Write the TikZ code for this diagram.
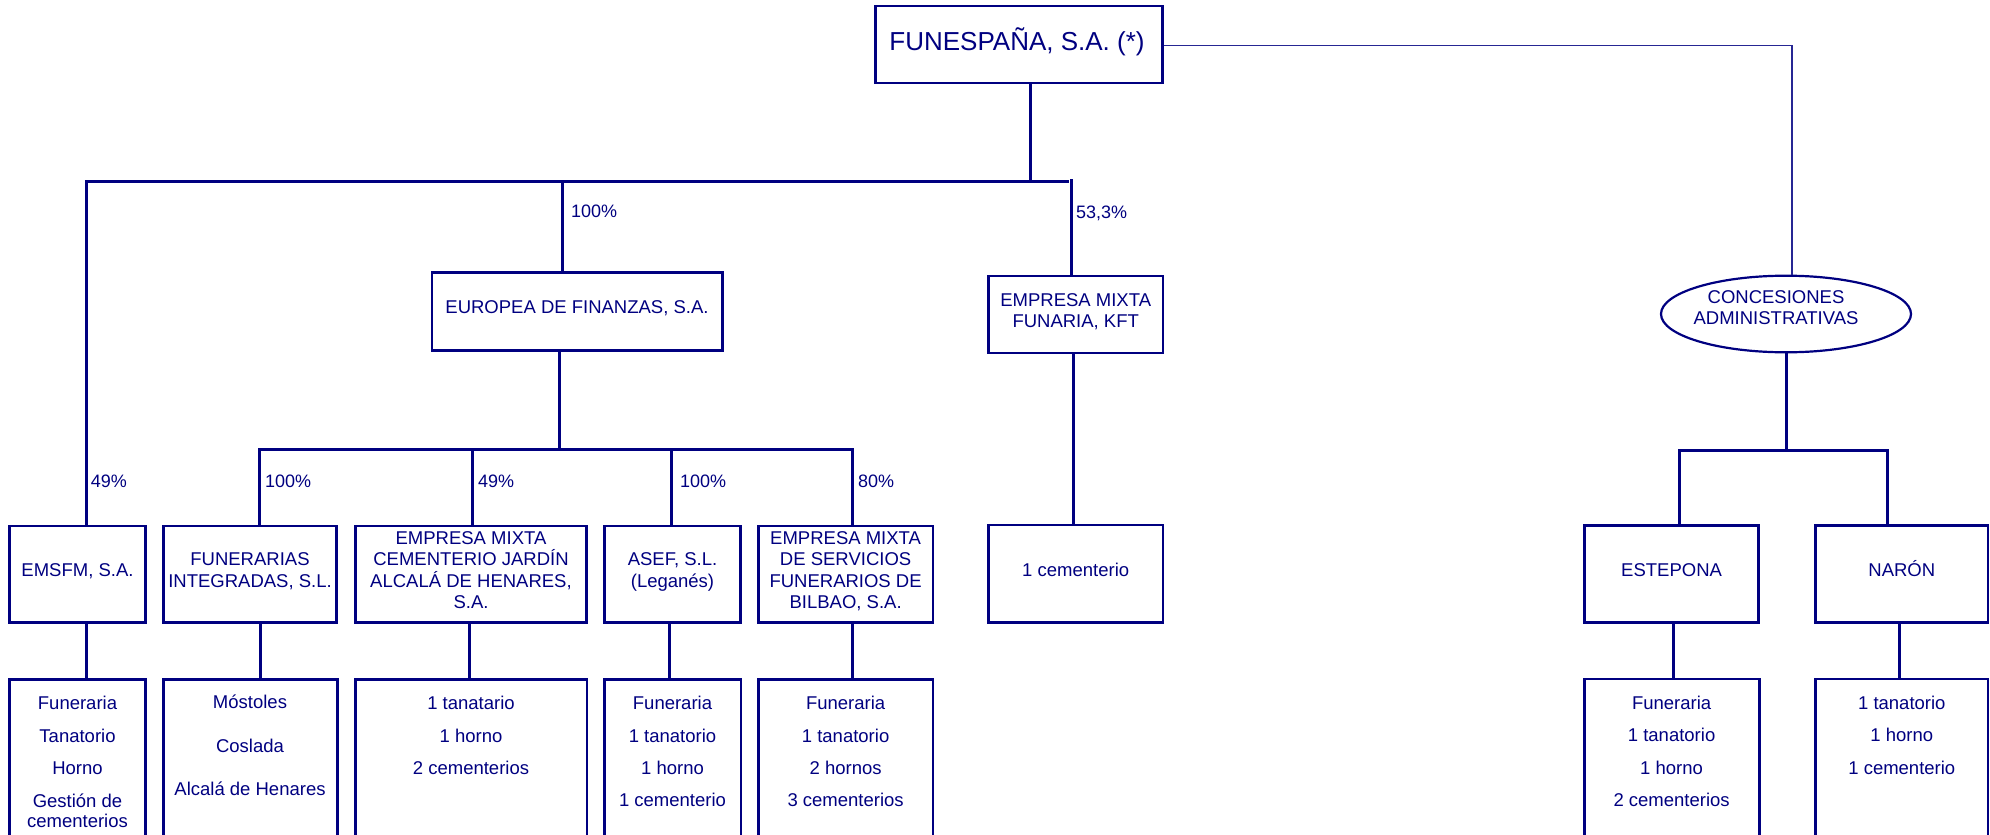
\documentclass[tikz,border=0pt]{standalone}
\usepackage{fontspec}
\setmainfont{Liberation Sans}
\usetikzlibrary{shapes.geometric}
\definecolor{navy}{RGB}{0,0,128}
\tikzset{
  box/.style={draw=navy, line width=2.8pt, rectangle, inner sep=0pt},
  conn/.style={draw=navy, line width=3pt, line cap=rect},
  thinline/.style={draw=navy!85, line width=1.1pt},
  txt/.style={text=navy, font=\fontsize{18.5}{21.5}\selectfont, inner sep=0pt, anchor=base},
  pct/.style={text=navy, font=\fontsize{18}{21}\selectfont, inner sep=0pt, anchor=base west},
}
\newcommand\bx[5]{\node[box, minimum width={#4-#2}, minimum height={#5-#3}] (#1) at ({(#2+#4)/2},{(#3+#5)/2}) {};}
\newcommand\tls[5]{\foreach \t [count=\i] in {#5} {\node[txt] (#1-\i) at (#2,{#3+(\i-1)*#4}) {\t};}}
\begin{document}
\begin{tikzpicture}[x=1pt,y=-1pt]
\useasboundingbox (0,0) rectangle (1990,835);
\clip (0,0) rectangle (1990,835);
% top
\bx{fun}{875.5}{6}{1162.5}{83}
\node[txt, font=\fontsize{26}{30}\selectfont] (funT) at (1017,50.3) {FUNESPAÑA, S.A. (*)};
% boxes level 1
\bx{eur}{432}{272.7}{722.6}{350.7}
\bx{kft}{988.5}{276}{1163}{353}
\node[ellipse, draw=navy, line width=2.2pt, minimum width=250, minimum height=76.6, inner sep=0pt] (conc) at (1786,314) {};
% row 2
\bx{emsfm}{9.6}{526}{145.4}{622.7}
\bx{funi}{163.3}{526}{336.7}{622.7}
\bx{emcj}{355.2}{526}{586.7}{622.7}
\bx{asef}{604.6}{526}{740.4}{622.7}
\bx{bilb}{758.3}{526}{933}{622.7}
\bx{cem}{988.5}{525}{1163}{622.4}
\bx{est}{1584.7}{525.4}{1758.5}{622.4}
\bx{nar}{1815.6}{525.4}{1988}{622.4}
% row 3
\bx{emsfmB}{9.6}{679.3}{145.4}{850}
\bx{funiB}{163.3}{679.3}{337.5}{850}
\bx{emcjB}{355.2}{679.3}{587}{850}
\bx{asefB}{604.6}{679.3}{741}{850}
\bx{bilbB}{758.3}{679.3}{933}{850}
\bx{estB}{1584.7}{679}{1759.5}{850}
\bx{narB}{1815.6}{679}{1988}{850}
% coordinates
\coordinate (tc) at (1792,45.5);
\coordinate (b1l) at (86,181.7);
\coordinate (b1m) at (1030.7,181.7);
\coordinate (b1r) at (1067,181.7);
\coordinate (b1e) at (562.5,181.7);
\coordinate (b1k) at (1071,180);
\coordinate (b2m) at (559,449.3);
\coordinate (b2a) at (259.6,449.3);
\coordinate (b2b) at (472,449.3);
\coordinate (b2c) at (671,449.3);
\coordinate (b2d) at (852.5,449.3);
\coordinate (kx) at (1073.4,0);
\coordinate (b3m) at (1786,450.4);
\coordinate (b3a) at (1679.6,450.4);
\coordinate (b3b) at (1887,450.4);
\coordinate (x1) at (260.8,0);
\coordinate (x2) at (469,0);
\coordinate (x3) at (669.6,0);
\coordinate (x4) at (852,0);
\coordinate (x5) at (1673.6,0);
\coordinate (x6) at (1899.8,0);
% connectors
\draw[thinline] (fun.east |- tc) -- (tc) -- (tc |- conc.north);
\draw[conn] (b1m |- fun.south) -- (b1m);
\draw[conn] (b1l |- emsfm.north) -- (b1l) -- (b1r);
\draw[conn] (b1e) -- (b1e |- eur.north);
\draw[conn] (b1k) -- (b1k |- kft.north);
\draw[conn] (eur.south -| b2m) -- (b2m);
\draw[conn] (b2a |- funi.north) -- (b2a) -- (b2d) -- (b2d |- bilb.north);
\draw[conn] (b2b) -- (b2b |- emcj.north);
\draw[conn] (b2c) -- (b2c |- asef.north);
\draw[conn] (kft.south -| kx) -- (cem.north -| kx);
\draw[conn] (conc.south -| b3m) -- (b3m);
\draw[conn] (b3a |- est.north) -- (b3a) -- (b3b) -- (b3b |- nar.north);
\draw[conn] (emsfm.south -| b1l) -- (emsfmB.north -| b1l);
\draw[conn] (funi.south -| x1) -- (funiB.north -| x1);
\draw[conn] (emcj.south -| x2) -- (emcjB.north -| x2);
\draw[conn] (asef.south -| x3) -- (asefB.north -| x3);
\draw[conn] (bilb.south -| x4) -- (bilbB.north -| x4);
\draw[conn] (est.south -| x5) -- (estB.north -| x5);
\draw[conn] (nar.south -| x6) -- (narB.north -| x6);
% percentages
\node[pct] (p1) at (571,217.2) {100\%};
\node[pct] (p2) at (1076,218.2) {53,3\%};
\node[pct] (p3) at (90.6,487.2) {49\%};
\node[pct] (p4) at (265,487.2) {100\%};
\node[pct] (p5) at (478,487.2) {49\%};
\node[pct] (p6) at (680,487.2) {100\%};
\node[pct] (p7) at (858,487.2) {80\%};
% texts level 1
\node[txt] (eurT) at (577,313.3) {EUROPEA DE FINANZAS, S.A.};
\tls{kftT}{1075.7}{306.1}{21.3}{EMPRESA MIXTA,{FUNARIA, KFT}}
\tls{concT}{1776}{303.9}{20.9}{CONCESIONES,ADMINISTRATIVAS}
% texts row 2
\node[txt] (emsfmT) at (77.5,576.5) {EMSFM, S.A.};
\tls{funiT}{250}{565.8}{21.4}{FUNERARIAS,{INTEGRADAS, S.L.}}
\tls{emcjT}{471}{544.2}{21.5}{EMPRESA MIXTA,CEMENTERIO JARDÍN,{ALCALÁ DE HENARES,},S.A.}
\tls{asefT}{672.5}{565.8}{21.4}{{ASEF, S.L.},(Leganés)}
\tls{bilbT}{845.6}{544.2}{21.5}{EMPRESA MIXTA,DE SERVICIOS,FUNERARIOS DE,{BILBAO, S.A.}}
\node[txt] (cemT) at (1075.7,576.5) {1 cementerio};
\node[txt] (estT) at (1671.6,576.3) {ESTEPONA};
\node[txt] (narT) at (1901.8,576.3) {NARÓN};
% texts row 3
\node[txt] (eb1) at (77.5,709.8) {Funeraria};
\node[txt] (eb2) at (77.5,742.2) {Tanatorio};
\node[txt] (eb3) at (77.5,774.2) {Horno};
\node[txt] (eb4) at (77.5,807.2) {Gestión de};
\node[txt] (eb5) at (77.5,827.2) {cementerios};
\tls{funiB}{250}{708.5}{43.5}{Móstoles,Coslada,Alcalá de Henares}
\tls{emcjBT}{471}{709.8}{32.2}{1 tanatario,1 horno,2 cementerios}
\tls{asefBT}{672.5}{709.8}{32.2}{Funeraria,1 tanatorio,1 horno,1 cementerio}
\tls{bilbBT}{845.6}{709.8}{32.2}{Funeraria,1 tanatorio,2 hornos,3 cementerios}
\tls{estBT}{1671.6}{709.1}{32.6}{Funeraria,1 tanatorio,1 horno,2 cementerios}
\tls{narBT}{1901.8}{709.1}{32.6}{1 tanatorio,1 horno,1 cementerio}
\end{tikzpicture}
\end{document}
